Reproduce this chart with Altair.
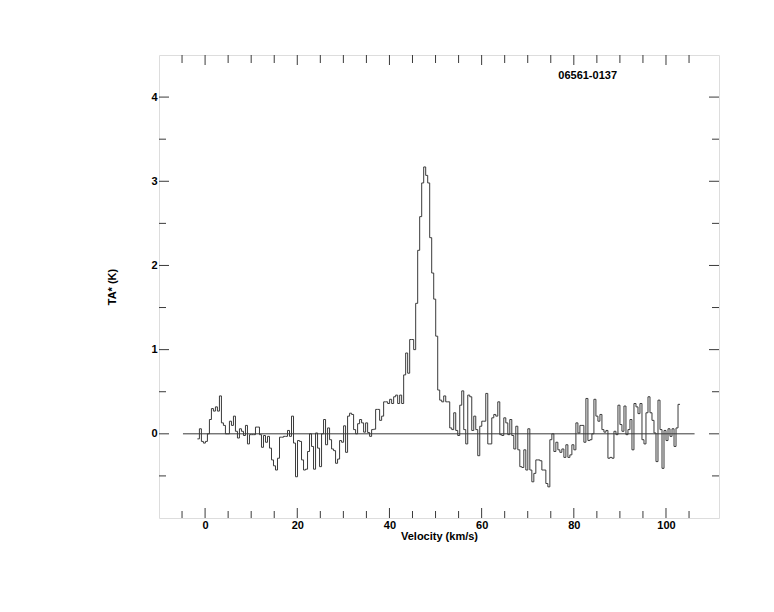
import altair as alt
import pandas as pd

# ---- data (TA* in K per channel) ----
V0 = -1.67          # left edge of first channel (km/s)
DV = 0.4345         # channel width (km/s)

seg_a = [-0.06, 0.06, -0.09, -0.11, -0.09, 0.0, 0.17, 0.30, 0.27, 0.32, 0.27, 0.45,
         0.13, 0.10, 0.0, 0.0, 0.15, 0.10, 0.21, 0.03, -0.05, 0.06, 0.03, -0.02,
         0.10, -0.12, -0.01, -0.01, -0.01, 0.08, 0.08, -0.01, -0.16, -0.02]
seg_b = [-0.10, -0.03, -0.17, -0.31, -0.38, -0.43, -0.29, -0.04, -0.04, -0.03]
seg_c = [-0.03, 0.04, -0.03, 0.21, -0.11, -0.51, -0.08, -0.09, -0.31, -0.43,
         -0.42, -0.21, 0.0, -0.15, -0.42, 0.01, -0.17, -0.39, 0.0, 0.17,
         -0.13, 0.07, -0.07, -0.18, -0.20, -0.35, -0.30, -0.08, -0.10, 0.095,
         -0.22, 0.21, 0.245, 0.23, 0.05, 0.0, 0.12, 0.17, 0.13, 0.02,
         0.13, 0.015, -0.03, 0.05, 0.055, 0.29, 0.29, 0.16, 0.21, 0.38]
seg_d = [0.38, 0.36, 0.41, 0.36, 0.44, 0.46, 0.36, 0.46, 0.36, 0.70, 0.96, 0.72,
         1.12, 1.12, 1.00, 1.55, 2.18, 2.58, 2.98, 3.17, 3.07, 2.98, 2.33, 1.91,
         1.60, 1.16, 0.52, 0.40, 0.38]
seg_e = [0.45, 0.38, 0.38, 0.07, 0.05, 0.25, 0.04, -0.02, 0.34, 0.51, 0.05, -0.12,
         0.46, 0.44, 0.04, 0.21, 0.05, -0.26, 0.09, 0.15, 0.15, 0.48, -0.12, -0.12,
         0.19, 0.23, 0.21, 0.38, -0.01, -0.02, 0.19, 0.13, -0.01, 0.17, -0.02, -0.18,
         0.09, -0.19, -0.39, -0.40, -0.19, -0.43, 0.06, -0.43, -0.57, -0.47, -0.31, -0.31]
seg_f = [-0.32, -0.43, -0.43, -0.59, -0.63, -0.07, 0.0, -0.21, -0.10, -0.19, -0.22, -0.18,
         -0.28, -0.13, -0.28, -0.25, -0.13, -0.19, 0.13, 0.01, 0.10, 0.10, -0.10, 0.42,
         -0.08, -0.07, 0.0, 0.41, 0.21, 0.15, 0.23, 0.05, 0.02, 0.04, -0.29, -0.28]
seg_g = [-0.29, 0.03, -0.01, 0.34, 0.11, 0.03, 0.33, -0.01, 0.05, 0.17, -0.19, 0.36,
         0.32, 0.24, 0.36, -0.07, -0.12, 0.25, 0.44, 0.25, 0.16, 0.01, -0.33, 0.40,
         0.05, -0.41, 0.04, -0.08, 0.06, -0.03, 0.06, -0.15, 0.07, 0.35]

x_major = [0, 20, 40, 60, 80, 100]
x_minor = [-5, 5, 10, 15, 25, 30, 35, 45, 50, 55, 65, 70, 75, 85, 90, 95, 105]
y_major = [0, 1, 2, 3, 4]
y_minor = [-0.5, 0.5, 1.5, 2.5, 3.5]
baseline_from, baseline_to = -4.8, 106.2
source_name = "06561-0137"
label_pos = (83, 4.25)

# ---- build table ----
temps = seg_a + seg_b + seg_c + seg_d + seg_e + seg_f + seg_g
vel = [V0 + i * DV for i in range(len(temps))]
vel.append(V0 + len(temps) * DV)
temps_ext = temps + [temps[-1]]
spec = pd.DataFrame({"v": vel, "t": temps_ext})

W, H = 560, 463
xs = alt.Scale(domain=[-10, 111.5], nice=False, zero=False)
ys = alt.Scale(domain=[-1, 4.5], nice=False, zero=False)
INK = "#3a3a3a"
FONT = "Liberation Sans"

xaxis = alt.Axis(
    values=x_major, title="Velocity (km/s)", ticks=False, domain=False, grid=False,
    labelFont=FONT, labelFontWeight="bold", labelFontSize=11, labelColor="black",
    labelPadding=1, titleFont=FONT, titleFontWeight="bold", titleFontSize=11,
    titleColor="black", titlePadding=0)
yaxis = alt.Axis(
    values=y_major, title="TA* (K)", ticks=False, domain=False, grid=False,
    labelFont=FONT, labelFontWeight="bold", labelFontSize=11, labelColor="black",
    labelPadding=2, titleFont=FONT, titleFontWeight="bold", titleFontSize=11,
    titleColor="black", titlePadding=33)

line = alt.Chart(spec).mark_line(interpolate="step-after", color=INK, strokeWidth=1).encode(
    x=alt.X("v:Q", scale=xs, axis=xaxis),
    y=alt.Y("t:Q", scale=ys, axis=yaxis),
)

base_df = pd.DataFrame({"a": [baseline_from], "b": [baseline_to], "z": [0]})
baseline = alt.Chart(base_df).mark_rule(color=INK, strokeWidth=1).encode(
    x=alt.X("a:Q", scale=xs, axis=xaxis), x2="b:Q", y=alt.Y("z:Q", scale=ys, axis=yaxis))


def xticks(vals, length, side):
    df = pd.DataFrame({"p": vals})
    if side == "bottom":
        yy, yy2 = H, H - length
    else:
        yy, yy2 = 0, length
    return alt.Chart(df).mark_rule(color=INK, strokeWidth=1).encode(
        x=alt.X("p:Q", scale=xs, axis=xaxis), y=alt.value(yy), y2=alt.value(yy2))


def yticks(vals, length, side):
    df = pd.DataFrame({"q": vals})
    if side == "left":
        xx, xx2 = 0, length
    else:
        xx, xx2 = W, W - length
    return alt.Chart(df).mark_rule(color=INK, strokeWidth=1).encode(
        y=alt.Y("q:Q", scale=ys, axis=yaxis), x=alt.value(xx), x2=alt.value(xx2))


ticks = [
    xticks(x_major, 10, "bottom"), xticks(x_minor, 7, "bottom"),
    xticks(x_major, 10, "top"), xticks(x_minor, 8, "top"),
    yticks(y_major, 10, "left"), yticks(y_minor, 7, "left"),
    yticks(y_major, 10, "right"), yticks(y_minor, 7, "right"),
]

lab_df = pd.DataFrame({"x": [label_pos[0]], "y": [label_pos[1]], "s": [source_name]})
label = alt.Chart(lab_df).mark_text(font=FONT, fontWeight="bold", fontSize=11, color="black").encode(
    x=alt.X("x:Q", scale=xs, axis=xaxis), y=alt.Y("y:Q", scale=ys, axis=yaxis), text="s:N")

chart = alt.layer(line, baseline, label, *ticks).properties(
    width=W, height=H,
    autosize=alt.AutoSizeParams(type="none"),
    padding={"left": 151, "top": 47, "right": 47, "bottom": 86},
).configure_view(stroke="#555555", strokeWidth=1).configure(background="white")

chart.save("out.html", embed_options={"renderer": "svg", "actions": False})
